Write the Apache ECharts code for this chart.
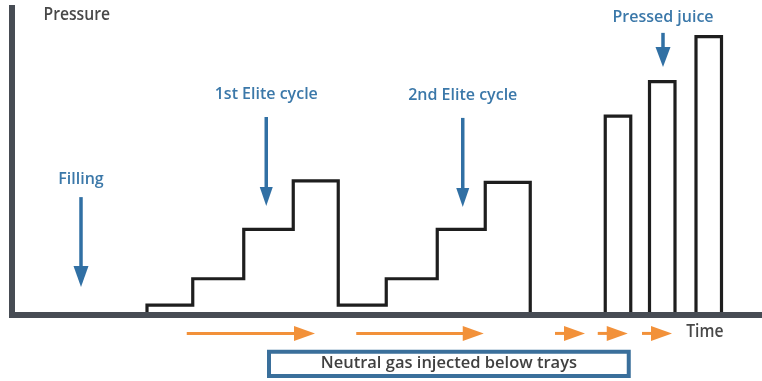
<!DOCTYPE html>
<html>
<head>
<meta charset="utf-8">
<script src="https://cdn.jsdelivr.net/npm/echarts@6/dist/echarts.min.js"></script>
<style>html,body{margin:0;padding:0;background:#fff}#c{width:762px;height:381px}</style>
</head>
<body>
<div id="c"></div>
<script>
// Pressure profile (time, pressure) corners of the stepped curve
const stepTime = [0, 18.0, 18.0, 24.1, 24.1, 30.9, 30.9, 37.5, 37.5, 43.5, 43.5, 49.9, 49.9, 56.7, 56.7, 63.1, 63.1, 69.1, 69.1, 79.1, 79.1, 82.5, 82.5, 85.0, 85.0, 88.4, 88.4, 91.2, 91.2, 94.6, 94.6, 100];
const stepPressure = [0, 0, 3.2, 3.2, 11.8, 11.8, 27.9, 27.9, 43.7, 43.7, 3.2, 3.2, 11.8, 11.8, 27.9, 27.9, 43.2, 43.2, 0, 0, 64.8, 64.8, 0, 0, 76.0, 76.0, 0, 0, 90.7, 90.7, 0, 0];

// Blue callouts
const calloutText = ['Filling', '1st Elite cycle', '2nd Elite cycle', 'Pressed juice'];
const calloutTime = [9.2, 33.9, 60.1, 86.8];
const calloutTextP = [44.0, 71.8, 71.5, 96.9];
const calloutFromP = [38.4, 64.5, 64.2, 91.9];
const calloutToP = [9.1, 35.5, 35.2, 80.8];

// Orange gas-injection arrows (below the time axis)
const gasFrom = [23.3, 45.9, 72.4, 78.1, 84.0];
const gasTo = [40.4, 62.9, 76.4, 82.1, 88.0];
const gasP = -6.0;

// Box label
const boxText = 'Neutral gas injected below trays';
const boxTime = [34.0, 82.5];
const boxP = [-11.3, -20.5];

// Axis titles
const axisTitles = ['Pressure', 'Time'];
const axisTitleTime = [4.2, 89.9];
const axisTitleP = [97.8, -5.4];

const FONT = '"Open Sans", sans-serif';
const BLUE = '#3170a4';
const ORANGE = '#f2913a';
const GRAY = '#474c54';

const chart = echarts.init(document.getElementById('c'));

function arrow(api, x1, y1, x2, y2, color, lw, hl, hw) {
  const a = api.coord([x1, y1]);
  const b = api.coord([x2, y2]);
  const dx = b[0] - a[0], dy = b[1] - a[1];
  const len = Math.sqrt(dx * dx + dy * dy);
  const ux = dx / len, uy = dy / len;
  const bx = b[0] - ux * hl, by = b[1] - uy * hl;
  const px = -uy, py = ux;
  return [
    {type: 'line', shape: {x1: a[0], y1: a[1], x2: bx + ux, y2: by + uy}, style: {stroke: color, lineWidth: lw}},
    {type: 'polygon', shape: {points: [[b[0], b[1]], [bx + px * hw / 2, by + py * hw / 2], [bx - px * hw / 2, by - py * hw / 2]]}, style: {fill: color}}
  ];
}

const option = {
  animation: false,
  grid: {left: 12, right: 0, top: 8, bottom: 66},
  xAxis: {
    type: 'value', min: 0, max: 100, z: 5,
    axisLine: {show: true, lineStyle: {color: GRAY, width: 6, cap: 'square'}},
    axisTick: {show: false}, axisLabel: {show: false}, splitLine: {show: false}
  },
  yAxis: {
    type: 'value', min: 0, max: 100, z: 5,
    axisLine: {show: true, lineStyle: {color: GRAY, width: 6, cap: 'square'}},
    axisTick: {show: false}, axisLabel: {show: false}, splitLine: {show: false}
  },
  series: [
    {
      type: 'line', z: 2, clip: false,
      data: stepTime.map((t, i) => [t, stepPressure[i]]),
      symbol: 'none',
      lineStyle: {color: '#1e1e1e', width: 3.2, join: 'miter'}
    },
    {
      type: 'custom', z: 6, clip: false,
      data: calloutTime.map((t, i) => [t, calloutFromP[i], calloutToP[i]]),
      renderItem: function (params, api) {
        const i = params.dataIndex;
        const hl = i === 0 ? 21 : (i === 3 ? 20 : 19);
        const hw = i === 0 ? 15 : (i === 3 ? 15 : 13);
        return {type: 'group', children: arrow(api, api.value(0), api.value(1), api.value(0), api.value(2), BLUE, 3.5, hl, hw)};
      }
    },
    {
      type: 'custom', z: 6, clip: false,
      data: gasFrom.map((t, i) => [t, gasTo[i], gasP]),
      renderItem: function (params, api) {
        return {type: 'group', children: arrow(api, api.value(0), api.value(2), api.value(1), api.value(2), ORANGE, 3, 21, 15)};
      }
    },
    {
      type: 'custom', z: 6, clip: false,
      data: calloutText.map((s, i) => [calloutTime[i], calloutTextP[i]]),
      renderItem: function (params, api) {
        const p = api.coord([api.value(0), api.value(1)]);
        return {type: 'text', x: p[0], y: p[1], style: {text: calloutText[params.dataIndex], fill: '#3b78a9', font: '600 16px ' + FONT, align: 'center', verticalAlign: 'middle'}};
      }
    },
    {
      type: 'custom', z: 6, clip: false,
      data: axisTitles.map((s, i) => [axisTitleTime[i], axisTitleP[i]]),
      renderItem: function (params, api) {
        const p = api.coord([api.value(0), api.value(1)]);
        return {type: 'text', x: p[0], y: p[1], scaleY: 1.1, style: {text: axisTitles[params.dataIndex], fill: '#484848', font: '600 15.7px ' + FONT, align: 'left', verticalAlign: 'middle'}};
      }
    },
    {
      type: 'custom', z: 6, clip: false,
      data: [[boxTime[0], boxP[0], boxTime[1], boxP[1]]],
      renderItem: function (params, api) {
        const a = api.coord([api.value(0), api.value(1)]);
        const b = api.coord([api.value(2), api.value(3)]);
        return {type: 'group', children: [
          {type: 'rect', shape: {x: a[0] + 2, y: a[1] + 2, width: b[0] - a[0] - 4, height: b[1] - a[1] - 4}, style: {fill: '#fff', stroke: '#3a6f9b', lineWidth: 4}},
          {type: 'text', x: (a[0] + b[0]) / 2, y: (a[1] + b[1]) / 2 - 1, style: {text: boxText, fill: '#404040', font: '600 16.5px ' + FONT, align: 'center', verticalAlign: 'middle'}}
        ]};
      }
    }
  ]
};
chart.setOption(option);
</script>
</body>
</html>
